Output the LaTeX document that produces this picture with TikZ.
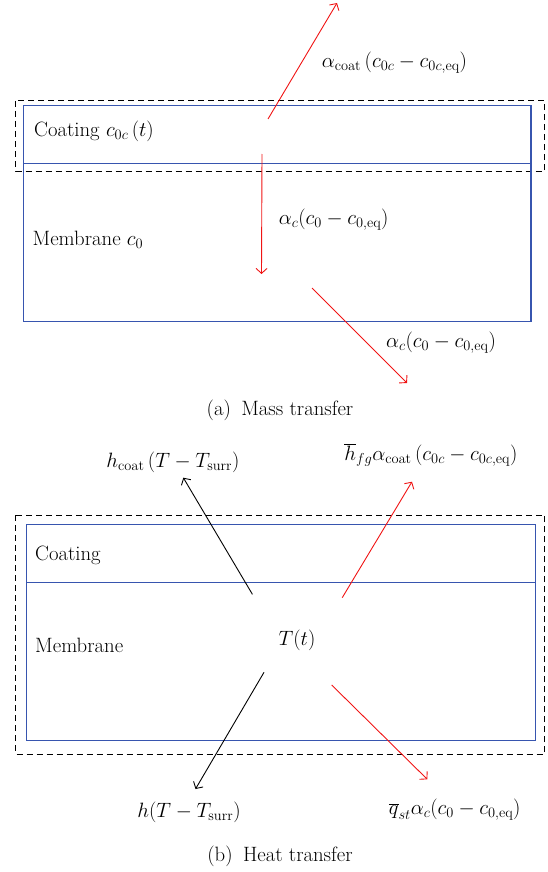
\documentclass[tikz,border=0pt]{standalone}
\usetikzlibrary{arrows.meta}
\definecolor{boxblue}{RGB}{55,85,175}
\definecolor{arrred}{RGB}{240,20,20}
\begin{document}
\begin{tikzpicture}[x=1pt,y=-1pt,
  box/.style={draw=boxblue, line width=1.1pt},
  dbox/.style={draw=black, line width=1pt, dash pattern=on 6pt off 4pt},
  arr/.style={line width=0.9pt, -{Straight Barb[length=5pt,width=11pt]}},
  redarr/.style={arr, draw=arrred},
  blkarr/.style={arr, draw=black},
  lbl/.style={font=\fontsize{20.74}{24}\selectfont, inner sep=0pt}
]
\useasboundingbox (0,0) rectangle (547,872);

% ---------- (a) Mass transfer ----------
\draw[dbox] (15.7,101) rectangle (544.7,171);
\draw[box] (23.5,105.5) rectangle (531,321.5);
\draw[box] (23.5,163.5) -- (531,163.5);

\node[lbl, anchor=west] (coat1) at (34,131) {Coating $c_{0c}\,(t)$};
\node[lbl, anchor=west] (mem1) at (32.5,240) {Membrane $c_0$};
\node[lbl] (la1) at (394.5,63) {$\alpha_{\mathrm{coat}}\,(c_{0c} - c_{0c,\mathrm{eq}})$};
\node[lbl] (la2) at (333.7,220) {$\alpha_c(c_0 - c_{0,\mathrm{eq}})$};
\node[lbl] (la3) at (441,343) {$\alpha_c(c_0 - c_{0,\mathrm{eq}})$};
\node[lbl] (capa) at (280,410) {(a)\enspace Mass transfer};

\coordinate (a1s) at (268,119);
\coordinate (a1e) at (337,3);
\coordinate (a2s) at (262,154);
\coordinate (a2e) at (261.5,274);
\coordinate (a3s) at (312,288);
\coordinate (a3e) at (407,383);
\draw[redarr] (a1s) -- (a1e);
\draw[redarr] (a2s) -- (a2e);
\draw[redarr] (a3s) -- (a3e);

% ---------- (b) Heat transfer ----------
\draw[dbox] (15.7,515) rectangle (544.7,754);
\draw[box] (26.5,524.5) rectangle (535.3,740.5);
\draw[box] (26.5,582.5) -- (535.3,582.5);

\node[lbl, anchor=west] (coat2) at (35,555) {Coating};
\node[lbl, anchor=west] (mem2) at (35,645) {Membrane};
\node[lbl] (tt) at (297,640) {$T(t)$};
\node[lbl] (lb1) at (173,462) {$h_{\mathrm{coat}}\,(T - T_{\mathrm{surr}})$};
\node[lbl] (lb2) at (431,455) {$\overline{h}_{fg}\alpha_{\mathrm{coat}}\,(c_{0c} - c_{0c,\mathrm{eq}})$};
\node[lbl] (lb3) at (189,812) {$h(T - T_{\mathrm{surr}})$};
\node[lbl] (lb4) at (454.7,810) {$\overline{q}_{st}\alpha_c(c_0 - c_{0,\mathrm{eq}})$};
\node[lbl] (capb) at (280,856) {(b)\enspace Heat transfer};

\coordinate (b1s) at (252.4,594.3);
\coordinate (b1e) at (183.3,477.7);
\coordinate (b2s) at (342.2,597.7);
\coordinate (b2e) at (412,481.7);
\coordinate (b3s) at (264,672.3);
\coordinate (b3e) at (195.5,789);
\coordinate (b4s) at (331.7,685);
\coordinate (b4e) at (427.3,779.3);
\draw[blkarr] (b1s) -- (b1e);
\draw[redarr] (b2s) -- (b2e);
\draw[blkarr] (b3s) -- (b3e);
\draw[redarr] (b4s) -- (b4e);
\end{tikzpicture}
\end{document}
